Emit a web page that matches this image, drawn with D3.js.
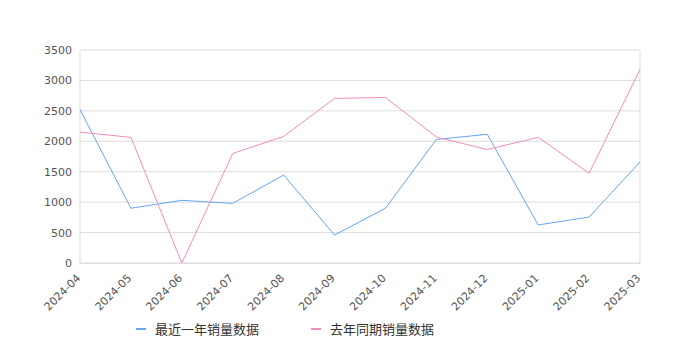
<!DOCTYPE html>
<html>
<head>
<meta charset="utf-8">
<script src="https://cdn.jsdelivr.net/npm/d3@7"></script>
<style>
  body { margin: 0; background: #fff; }
  text { font-family: "DejaVu Sans", "Noto Sans CJK SC", sans-serif; }
</style>
</head>
<body>
<div id="chart"></div>
<script>
const months = ['2024-04', '2024-05', '2024-06', '2024-07', '2024-08', '2024-09',
  '2024-10', '2024-11', '2024-12', '2025-01', '2025-02', '2025-03'];
const recentSales = [2520, 900, 1030, 980, 1445, 460, 900, 2030, 2115, 625, 755, 1660];
const lastYearSales = [2150, 2065, 0, 1800, 2080, 2705, 2720, 2070, 1865, 2065, 1475, 3180];
const yTicks = [0, 500, 1000, 1500, 2000, 2500, 3000, 3500];
const seriesNames = ['最近一年销量数据', '去年同期销量数据'];
const colors = ['#64a5f5', '#f38cc0'];

const width = 680, height = 350;
const margin = { top: 50, right: 40, bottom: 87, left: 80 };
const w = width - margin.left - margin.right;
const h = height - margin.top - margin.bottom;

const svg = d3.select('#chart').append('svg')
  .attr('width', width)
  .attr('height', height);

const g = svg.append('g')
  .attr('transform', `translate(${margin.left},${margin.top})`);

const x = d3.scalePoint().domain(months).range([0, w]);
const y = d3.scaleLinear().domain([0, 3500]).range([h, 0]);

// 网格线
g.append('g')
  .selectAll('line')
  .data(yTicks)
  .enter().append('line')
    .attr('x1', 0).attr('x2', w)
    .attr('y1', d => y(d)).attr('y2', d => y(d))
    .attr('stroke', '#dddddd')
    .attr('stroke-width', 1);

// 边框
g.append('line').attr('x1', 0).attr('x2', 0).attr('y1', 0).attr('y2', h)
  .attr('stroke', '#dddddd');
g.append('line').attr('x1', w).attr('x2', w).attr('y1', 0).attr('y2', h)
  .attr('stroke', '#dddddd');

// Y轴
const yAxis = g.append('g')
  .call(d3.axisLeft(y).tickValues(yTicks).tickFormat(d3.format('d')).tickSize(0).tickPadding(8));
yAxis.select('.domain').remove();
yAxis.selectAll('text')
  .attr('fill', '#555')
  .style('font-size', '11px');

// X轴
const xAxis = g.append('g')
  .attr('transform', `translate(0,${h})`)
  .call(d3.axisBottom(x).tickSize(0));
xAxis.select('.domain').attr('stroke', '#dddddd');
xAxis.selectAll('text')
  .attr('fill', '#555')
  .style('font-size', '11px')
  .style('text-anchor', 'end')
  .attr('y', 0)
  .attr('dy', '0.35em')
  .attr('transform', 'translate(-2,13) rotate(-45)');

// 折线
const line = d3.line()
  .x((d, i) => x(months[i]))
  .y(d => y(d));

[recentSales, lastYearSales].forEach((series, i) => {
  g.append('path')
    .datum(series)
    .attr('fill', 'none')
    .attr('stroke', colors[i])
    .attr('stroke-width', 1)
    .attr('d', line);
});

// 图例
const legend = svg.append('g')
  .attr('transform', 'translate(136,329)');
const legendItems = legend.selectAll('.legend')
  .data(seriesNames)
  .enter().append('g')
    .attr('class', 'legend')
    .attr('transform', (d, i) => `translate(${i * 175},0)`);
legendItems.append('line')
  .attr('x1', 0).attr('x2', 10)
  .attr('y1', 0).attr('y2', 0)
  .attr('stroke', (d, i) => colors[i])
  .attr('stroke-width', 2);
legendItems.append('text')
  .attr('x', 19)
  .attr('y', 0)
  .attr('dy', '0.35em')
  .attr('fill', '#333')
  .style('font-size', '13px')
  .text(d => d);
</script>
</body>
</html>
